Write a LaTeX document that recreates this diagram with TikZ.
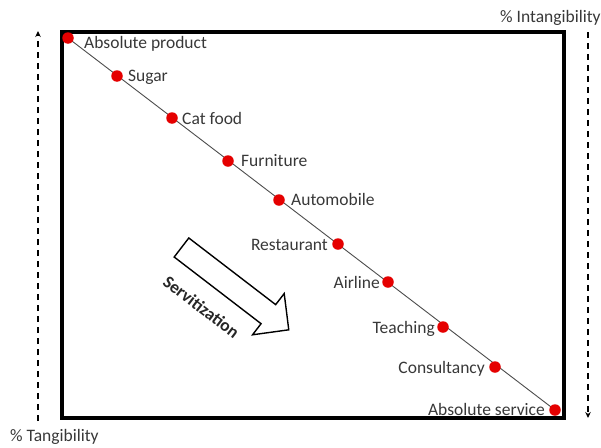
\documentclass[tikz,border=0pt]{standalone}
\usepackage{fontspec}
\setmainfont{Carlito}
\usetikzlibrary{arrows.meta,calc}

\begin{document}
\begin{tikzpicture}[x=1pt,y=-1pt,
  dot/.style={circle,fill=red!90!black,inner sep=0pt,minimum size=11.5pt},
  lbl/.style={font=\fontsize{17.5}{20}\selectfont,text=black!78,inner sep=0pt},
  axisarrow/.style={line width=1.8pt,dash pattern=on 6pt off 5pt,
    -{Stealth[length=6pt,width=5.5pt]}},
  frame/.style={line width=4pt},
  blockarrow/.style={line width=1.4pt,fill=white,line join=miter}]
\useasboundingbox (0,0) rectangle (601,447);

% outer frame
\draw[frame] (62,32) rectangle (564,418);

% positions of the product/service continuum
\coordinate (c1) at (68,38);
\coordinate (c2) at (117,76);
\coordinate (c3) at (172,118);
\coordinate (c4) at (228,161);
\coordinate (c5) at (279,200);
\coordinate (c6) at (338,244);
\coordinate (c7) at (388,282);
\coordinate (c8) at (443,327);
\coordinate (c9) at (495,367);
\coordinate (c10) at (555,410);

\draw[black!70,line width=0.9pt] (c1) -- (c10);

\foreach \i in {1,...,10} \node[dot] (p\i) at (c\i) {};

% labels
\node[lbl,anchor=base west] (t1) at ($(p1)+(16,10)$) {Absolute product};
\node[lbl,anchor=base west] (t2) at ($(p2)+(11,5)$) {Sugar};
\node[lbl,anchor=base west] (t3) at ($(p3)+(10,6)$) {Cat food};
\node[lbl,anchor=base west] (t4) at ($(p4)+(13,5)$) {Furniture};
\node[lbl,anchor=base west] (t5) at ($(p5)+(12,5)$) {Automobile};
\node[lbl,anchor=base east] (t6) at ($(p6)+(-10,6)$) {Restaurant};
\node[lbl,anchor=base east] (t7) at ($(p7)+(-8,6)$) {Airline};
\node[lbl,anchor=base east] (t8) at ($(p8)+(-8,6)$) {Teaching};
\node[lbl,anchor=base east] (t9) at ($(p9)+(-10,6)$) {Consultancy};
\node[lbl,anchor=base east] (t10) at ($(p10)+(-10,5)$) {Absolute service};

% tangibility / intangibility axes
\coordinate (tanA) at (38,421);
\coordinate (tanB) at (38,31);
\coordinate (intA) at (588,32);
\coordinate (intB) at (588,418);
\draw[axisarrow] (tanA) -- (tanB);
\draw[axisarrow] (intA) -- (intB);
\node[lbl,anchor=base west] (intl) at (500,22) {\% Intangibility};
\node[lbl,anchor=base west] (tanl) at (10,441) {\% Tangibility};

% servitization block arrow
\begin{scope}[shift={(181.5,247.5)},rotate=-37.5]
  \draw[blockarrow] (0,-12) -- (109.5,-12) -- (109.5,-26) -- (135.2,0)
    -- (109.5,26) -- (109.5,12) -- (0,12) -- cycle;
  \node[lbl,font=\fontsize{17.5}{20}\selectfont\bfseries,text=black!85,
    rotate=-37.5] (serv) at (52,35) {Servitization};
\end{scope}
\end{tikzpicture}
\end{document}
